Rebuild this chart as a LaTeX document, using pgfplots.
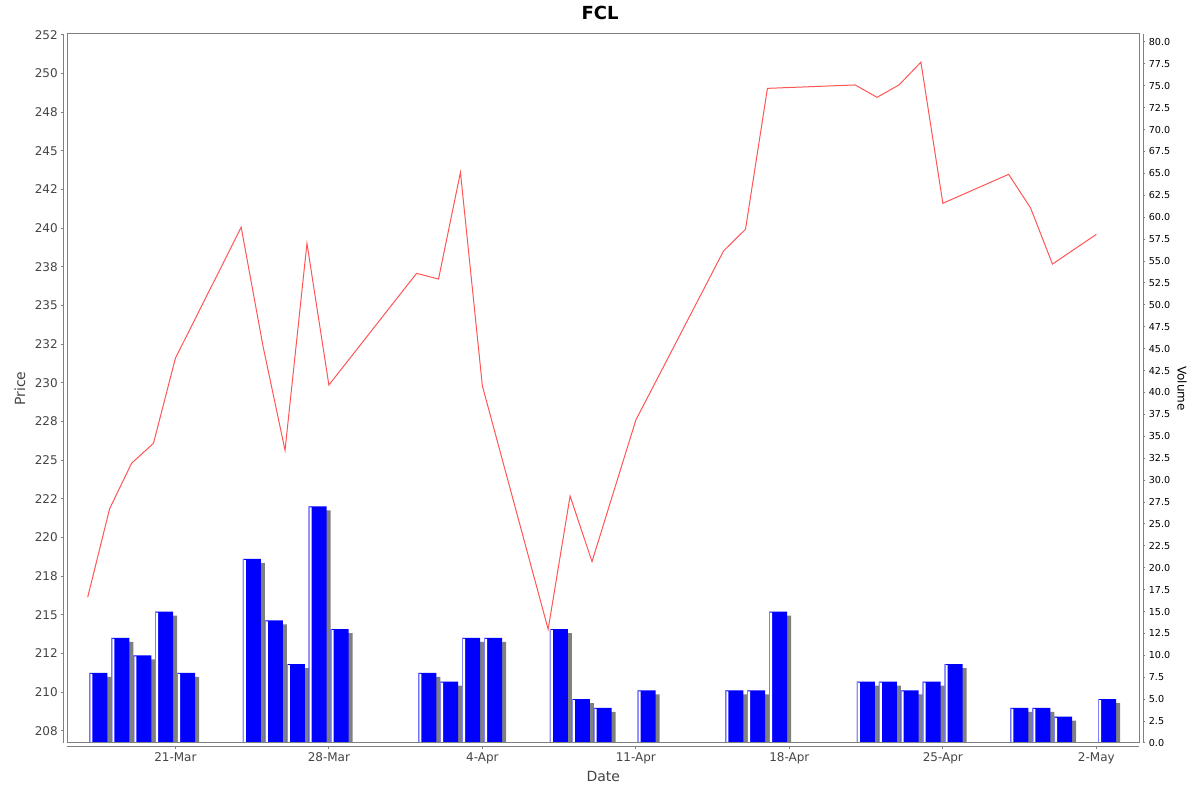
\documentclass[border=0pt]{standalone}
\usepackage{fontspec}
\setmainfont{DejaVu Sans}
\usepackage{pgfplots}
\pgfplotsset{compat=1.18}
\usepackage{pgfplotstable}
\definecolor{linered}{HTML}{FF5555}
\definecolor{axgray}{HTML}{808080}
\definecolor{lblgray}{HTML}{444444}
\definecolor{barblue}{HTML}{0000FF}
\definecolor{barlight}{HTML}{8080FF}
\definecolor{shadowgray}{HTML}{808080}

% day = days after 21-Mar
\pgfplotstableread{
day price
-4 216.13
-3 221.85
-2 224.79
-1 226.08
0 231.58
3 240.05
4 232.33
5 225.63
6 239.01
7 229.85
11 237.07
12 236.70
13 243.60
14 229.79
17 214.06
18 222.67
19 218.43
21 227.59
25 238.52
26 239.92
27 249.03
31 249.25
32 248.45
33 249.25
34 250.72
35 241.60
38 243.47
39 241.30
40 237.67
42 239.59
}\pricetable

\pgfplotstableread{
day vol
-4 8
-3 12
-2 10
-1 15
0 8
3 21
4 14
5 9
6 27
7 13
11 8
12 7
13 12
14 12
17 13
18 5
19 4
21 6
25 6
26 6
27 15
31 7
32 7
33 6
34 7
35 9
38 4
39 4
40 3
42 5
}\voltable

\begin{document}
\begin{tikzpicture}
\useasboundingbox (0pt,0pt) rectangle (1200pt,792pt);
\pgfplotsset{
  base/.style={scale only axis, width=1072pt, height=709pt,
    xmin=-4.93, xmax=43.96, anchor=south west},
  ticks/.style={tick align=outside, major tick length=2pt,
    major tick style={axgray, line width=1pt},
    axis line style={axgray, line width=1pt},
    minor tick num=0},
}
% volume bars
\begin{scope}[shift={(67.3pt,49pt)}]
\begin{axis}[base, ymin=0, ymax=80.91, hide axis]
\addplot[ybar, bar width=18pt, bar shift=14.72pt, fill=shadowgray, draw=none]
  table[x=day, y expr=\thisrow{vol}-0.4565] {\voltable};
\addplot[ybar, bar width=18pt, bar shift=10.72pt, fill=barblue, draw=none]
  table[x=day, y=vol] {\voltable};
\addplot[ybar, bar width=1pt, bar shift=2.22pt, fill=barlight, draw=none]
  table[x=day, y=vol] {\voltable};
\addplot[ybar, bar width=2pt, bar shift=3.72pt, fill=white, draw=none]
  table[x=day, y expr=\thisrow{vol}-0.12] {\voltable};
\end{axis}
\end{scope}
% price line and frame
\begin{scope}[shift={(67.3pt,49pt)}]
\begin{axis}[base, ymin=206.705, ymax=252.545,
  xtick=\empty, ytick=\empty, axis line style={axgray, line width=1pt}]
\addplot[linered, line width=1pt, mark=none] table[x=day, y=price] {\pricetable};
\end{axis}
\end{scope}
% left price axis
\begin{scope}[shift={(63.3pt,49pt)}]
\begin{axis}[base, ticks, ymin=206.705, ymax=252.545,
  axis y line*=left, axis x line=none,
  ytick={207.5,210,212.5,215,217.5,220,222.5,225,227.5,230,232.5,235,237.5,240,242.5,245,247.5,250,252.5},
  yticklabels={208,210,212,215,218,220,222,225,228,230,232,235,238,240,242,245,248,250,252},
  yticklabel style={font=\fontsize{12}{14}\selectfont, text=lblgray}]
\end{axis}
\end{scope}
% right volume axis
\begin{scope}[shift={(71.3pt,49pt)}]
\begin{axis}[base, ticks, ymin=0, ymax=80.91,
  axis y line*=right, axis x line=none,
  ytick={0,2.5,5,7.5,10,12.5,15,17.5,20,22.5,25,27.5,30,32.5,35,37.5,40,42.5,45,47.5,50,52.5,55,57.5,60,62.5,65,67.5,70,72.5,75,77.5,80},
  /pgf/number format/assume math mode=true,
  yticklabel style={font=\fontsize{9.6}{11}\selectfont, text=black,
    /pgf/number format/fixed, /pgf/number format/fixed zerofill,
    /pgf/number format/precision=1}]
\end{axis}
\end{scope}
% bottom date axis
\begin{scope}[shift={(67.3pt,45pt)}]
\begin{axis}[base, ticks, ymin=0, ymax=1,
  axis x line*=bottom, axis y line=none,
  xtick={0,7,14,21,28,35,42},
  xticklabels={21-Mar,28-Mar,4-Apr,11-Apr,18-Apr,25-Apr,2-May},
  xticklabel style={font=\fontsize{12}{14}\selectfont, text=lblgray}]
\end{axis}
\end{scope}
\node[font=\bfseries\fontsize{18}{20}\selectfont] at (600pt,779pt) {FCL};
\node[rotate=90, font=\fontsize{14}{16}\selectfont, text=lblgray] at (20pt,403.5pt) {Price};
\node[rotate=-90, font=\fontsize{12}{14}\selectfont, text=black] at (1182pt,403.5pt) {Volume};
\node[font=\fontsize{14}{16}\selectfont, text=lblgray] at (603.3pt,16pt) {Date};
\end{tikzpicture}
\end{document}
